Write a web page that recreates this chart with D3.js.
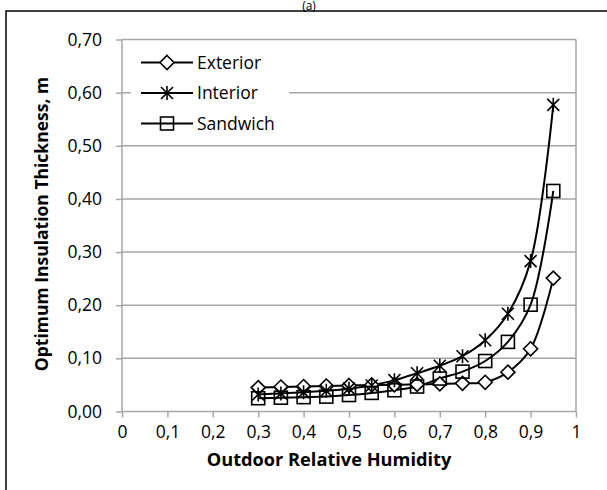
<!DOCTYPE html>
<html><head><meta charset="utf-8">
<script src="https://cdn.jsdelivr.net/npm/d3@7"></script>
<style>body{margin:0;background:#fff}svg{display:block;font-family:"Open Sans","Noto Sans",sans-serif}</style>
</head><body><svg id="c" width="607" height="490"></svg>
<script>
const humidity = [0.30,0.35,0.40,0.45,0.50,0.55,0.60,0.65,0.70,0.75,0.80,0.85,0.90,0.95];
const exterior = [0.045,0.046,0.047,0.048,0.049,0.050,0.050,0.051,0.052,0.053,0.055,0.074,0.118,0.251];
const interior = [0.032,0.034,0.036,0.039,0.043,0.049,0.059,0.072,0.086,0.104,0.134,0.184,0.283,0.577];
const sandwich = [0.025,0.026,0.027,0.028,0.031,0.035,0.040,0.047,0.062,0.075,0.095,0.131,0.201,0.415];
const seriesNames = ["Exterior","Interior","Sandwich"];
const xTicks = [0,0.1,0.2,0.3,0.4,0.5,0.6,0.7,0.8,0.9,1];
const yTicks = [0,0.1,0.2,0.3,0.4,0.5,0.6,0.7];

const svg = d3.select("#c");
const x = d3.scaleLinear().domain([0,1]).range([122,576]);
const y = d3.scaleLinear().domain([0,0.7]).range([411.5,39.5]);
const fmtY = v => d3.format(".2f")(v).replace(".",",");
const fmtX = v => (v===0||v===1)? String(v) : d3.format(".1f")(v).replace(".",",");
const grid = "#a6a6a6";

// title (drawn first so the frame sits over it as in the reference)
svg.append("text").attr("x",309).attr("y",10).attr("text-anchor","middle")
  .attr("font-size",12).text("(a)");
// outer frame
svg.append("rect").attr("x",6).attr("y",11).attr("width",640).attr("height",520)
  .attr("fill","none").attr("stroke","#000").attr("stroke-width",1.5);

// gridlines
svg.append("g").selectAll("line").data(yTicks.filter(d=>d>0)).join("line")
  .attr("x1",x(0)).attr("x2",x(1)).attr("y1",d=>y(d)).attr("y2",d=>y(d))
  .attr("stroke",grid).attr("stroke-width",1.5);
svg.append("line").attr("x1",x(1)).attr("x2",x(1)).attr("y1",y(0.7)).attr("y2",y(0))
  .attr("stroke",grid).attr("stroke-width",1.5);

// axes
const xAxis = svg.append("g").attr("transform",`translate(0,${y(0)})`)
  .call(d3.axisBottom(x).tickValues(xTicks).tickFormat(fmtX).tickSize(6).tickPadding(8));
const yAxis = svg.append("g").attr("transform",`translate(${x(0)},0)`)
  .call(d3.axisLeft(y).tickValues(yTicks).tickFormat(fmtY).tickSize(6).tickPadding(14));
[xAxis,yAxis].forEach(g=>{
  g.selectAll("path,line").attr("stroke",grid).attr("stroke-width",1.5);
  g.selectAll("path").attr("d", null);
  g.selectAll("text").attr("font-size",17.5).attr("fill","#000").attr("font-family","'Open Sans',sans-serif");
});
svg.append("line").attr("x1",x(0)).attr("x2",x(1)).attr("y1",y(0)).attr("y2",y(0)).attr("stroke",grid).attr("stroke-width",1.5);
svg.append("line").attr("x1",x(0)).attr("x2",x(0)).attr("y1",y(0.7)).attr("y2",y(0)).attr("stroke",grid).attr("stroke-width",1.5);

// axis titles
svg.append("text").attr("x",329).attr("y",466).attr("text-anchor","middle")
  .attr("font-size",18.2).attr("font-weight","bold").text("Outdoor Relative Humidity");
svg.append("text").attr("transform","translate(48,224) rotate(-90)").attr("text-anchor","middle")
  .attr("font-size",17.5).attr("font-weight","bold").text("Optimum Insulation Thickness, m");

// markers
function marker(g, type){
  if(type==="Exterior"){
    g.append("path").attr("d","M0,-7L7,0L0,7L-7,0Z").attr("fill","#fff").attr("stroke","#000").attr("stroke-width",1.6);
  } else if(type==="Sandwich"){
    g.append("rect").attr("x",-6.5).attr("y",-6.5).attr("width",13).attr("height",13).attr("fill","none").attr("stroke","#000").attr("stroke-width",1.6);
  } else {
    g.append("path").attr("d","M-6,-6L6,6M-6,6L6,-6M0,-7V7").attr("stroke","#000").attr("stroke-width",1.6).attr("fill","none");
  }
}

const data = [exterior, interior, sandwich];
const line = d3.line().x(d=>x(d[0])).y(d=>y(d[1])).curve(d3.curveCatmullRom.alpha(0.5));
data.forEach((vals,i)=>{
  const pts = humidity.map((h,j)=>[h,vals[j]]);
  svg.append("path").attr("d",line(pts)).attr("fill","none").attr("stroke","#000").attr("stroke-width",2);
});
data.forEach((vals,i)=>{
  humidity.forEach((h,j)=>{
    const g = svg.append("g").attr("transform",`translate(${x(h)},${y(vals[j])})`);
    marker(g, seriesNames[i]);
  });
});

// legend
svg.append("rect").attr("x",131).attr("y",46).attr("width",158).attr("height",92).attr("fill","#fff");
seriesNames.forEach((n,i)=>{
  const yy = 62.5 + i*30.5;
  svg.append("line").attr("x1",141).attr("x2",193).attr("y1",yy).attr("y2",yy).attr("stroke","#000").attr("stroke-width",2);
  const g = svg.append("g").attr("transform",`translate(167,${yy})`);
  marker(g,n);
  svg.append("text").attr("x",197).attr("y",yy+6).attr("font-size",17.5).text(n);
});
</script></body></html>
